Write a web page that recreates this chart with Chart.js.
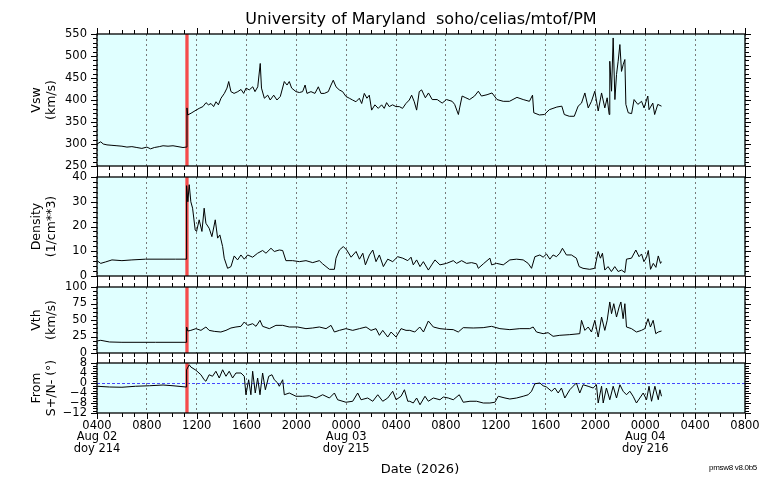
<!DOCTYPE html>
<html>
    <head>
        <script src="https://cdn.jsdelivr.net/npm/chart.js"></script>

        <style>
            body {
                margin: 0;
                background: #ffffff;
            }

            #wrap {
                position: relative;
                width: 776px;
                height: 480px;
                font-family: 'DejaVu Sans', sans-serif;
                color: #000;
            }

            #wrap canvas {
                position: absolute;
                left: 0;
                top: 0;
            }

            .txt {
                position: absolute;
                white-space: nowrap;
            }

            #title {
                left: 0;
                width: 842px;
                top: 9px;
                font-size: 16px;
                line-height: 20px;
                text-align: center;
            }

            #xlabel {
                left: 0;
                width: 840px;
                top: 461px;
                font-size: 13px;
                line-height: 16px;
                text-align: center;
            }

            #version {
                right: 19px;
                top: 462px;
                font-family: 'Liberation Sans', sans-serif;
                font-size: 8px;
                letter-spacing: -0.3px;
                line-height: 11px;
            }
        </style>
    </head>

    <body>

        <div id="wrap">
            <canvas id="c0" width="776" height="480"></canvas>
            <canvas id="c1" width="776" height="480"></canvas>
            <canvas id="c2" width="776" height="480"></canvas>
            <canvas id="c3" width="776" height="480"></canvas>
            <div class="txt" id="title">University of Maryland&nbsp;&nbsp;soho/celias/mtof/PM</div>
            <div class="txt" id="xlabel">Date (2026)</div>
            <div class="txt" id="version">pmsw8 v8.0b5</div>
        </div>

        <script>
            // hours counted from 0000 Aug 02
            const dateTickHours = [4, 24, 48];
            const dateTickDays = ['Aug 02', 'Aug 03', 'Aug 04'];
            const dateTickDoy = ['doy 214', 'doy 215', 'doy 216'];
            const shockHour = 11.22;

            const vswHours = [
                4.0, 4.3, 4.5, 4.8, 5.2, 5.6, 6.0, 6.4, 6.8, 7.2, 7.6, 8.0, 8.3, 8.6, 9.0, 9.3, 9.7, 10.1, 10.5, 10.9, 11.15,
                11.22, 11.28, 11.55, 11.95, 12.2, 12.5, 12.75, 12.94, 13.15, 13.36, 13.55, 13.74, 13.95, 14.22, 14.43, 14.57,
                14.75, 15.0, 15.3, 15.56, 15.77, 15.96, 16.22, 16.5, 16.68, 16.9, 17.1, 17.2, 17.43, 17.7, 17.9, 18.18, 18.44,
                18.71, 19.03, 19.25, 19.43, 19.62, 19.97, 20.24, 20.5, 20.7, 20.85, 21.17, 21.49, 21.76, 21.97, 22.24, 22.56,
                22.78, 22.96, 23.18, 23.44, 23.71, 23.98, 24.25, 24.51, 24.78, 25.05, 25.24, 25.45, 25.66, 25.85, 26.04, 26.3,
                26.57, 26.84, 27.05, 27.24, 27.45, 27.72, 27.99, 28.26, 28.52, 28.79, 29.06, 29.25, 29.46, 29.65, 29.86, 30.05,
                30.35, 30.6, 30.9, 31.3, 31.7,
                32.05, 32.5, 32.7, 33.0, 33.1, 33.3, 33.6, 33.9, 34.3, 34.6, 34.85, 35.3, 35.7, 36.1, 36.6, 37.1, 37.7, 38.2,
                38.7, 38.95, 39.05, 39.5, 39.9, 40.3, 40.9, 41.3, 41.5, 41.9, 42.3, 42.61, 42.88, 43.15, 43.42, 43.68, 43.95,
                44.22, 44.49, 44.75, 44.94, 45.1, 45.15, 45.29, 45.42, 45.56, 45.69, 45.82, 45.96, 46.09, 46.22, 46.36, 46.44,
                46.63, 46.9, 47.1, 47.4, 47.7, 47.9, 48.2, 48.3, 48.6, 48.75, 49.0, 49.3
            ];
            const vswValues = [
                300, 305, 300, 298, 297, 296, 295, 293, 294, 292, 290, 293, 289, 292, 294, 296, 295, 296, 294, 292, 293,
                382, 366, 370, 377, 381, 385, 394, 389, 392, 385, 396, 389, 404, 415, 427, 442,
                419, 415, 419, 424, 415, 427, 423, 430, 419, 430, 483, 427, 404, 411, 400, 411, 400,
                408, 442, 434, 442, 427, 419, 417, 419, 434, 415, 419, 415, 430, 415, 415, 419,
                434, 445, 430, 423, 419, 408, 404, 400, 396, 404, 392, 415, 404, 411, 377, 389,
                381, 389, 381, 394, 385, 389, 385, 385, 381, 392, 400, 411, 396, 377, 419, 423,
                405, 416, 401, 401, 393,
                401, 397, 390, 367, 382, 409, 405, 401, 409, 420, 409, 412, 416, 401, 397, 397, 406, 401,
                397, 411, 371, 366, 367, 378, 384, 386, 367, 363, 363, 386, 393, 416, 382, 397, 420,
                375, 416, 382, 405, 367, 488, 420, 541, 401, 458, 488, 526, 465, 480, 492, 390,
                371, 369, 401, 390, 397, 382, 409, 378, 393, 367, 390, 386
            ];

            const denHours = [
                4.0, 4.3, 4.7, 5.2, 6.0, 6.8, 7.9, 9.3, 10.3, 11.15,
                11.19, 11.29, 11.4, 11.53, 11.67, 11.88, 11.99, 12.2, 12.42, 12.6, 12.74, 13.0, 13.22, 13.49, 13.68, 13.86,
                14.08, 14.21, 14.48, 14.75, 15.01, 15.28, 15.55, 15.82, 16.09, 16.49, 16.89, 17.29, 17.56, 17.96, 18.23, 18.63,
                18.9, 19.16, 19.7, 20.24, 20.77, 21.31, 21.84, 22.11, 22.65, 23.05, 23.18, 23.45, 23.77, 24.04, 24.39, 24.79,
                25.06, 25.33, 25.54, 25.86, 26.13, 26.39, 26.66, 26.98, 27.33, 27.73, 28.13, 28.54, 28.94, 29.2, 29.38, 29.65,
                29.92, 30.19, 30.59, 30.86, 31.12, 31.52, 32.05, 32.59, 32.86, 33.26, 33.66, 34.06, 34.46, 34.6, 35.0, 35.53,
                35.67, 36.07, 36.6, 37.13, 37.67, 38.2, 38.6, 38.87, 39.14, 39.54, 39.8, 40.07, 40.34, 40.6, 40.87, 41.14,
                41.35, 41.67, 42.07, 42.47, 42.69, 43.0, 43.54, 43.94, 44.21, 44.4, 44.56, 44.75, 45.01, 45.28, 45.55, 45.82,
                46.09, 46.36, 46.49, 46.89, 47.24, 47.5, 47.7, 47.89, 48.1, 48.24, 48.42, 48.64, 48.85, 49.04, 49.22, 49.3
            ];
            const denValues = [
                6.2, 5.1, 5.7, 6.5, 6.2, 6.5, 6.8, 6.8, 6.8, 6.8,
                36.5, 30, 36.9, 30, 27.4, 18.6, 18, 22.7, 18, 27.4, 21.3, 19.3, 15.9, 22.7, 15.3, 16.6,
                11.9, 7.2, 3.1, 3.8, 8.1, 6.5, 8.5, 6.8, 8.5, 7.6, 9.2, 10.3, 9.2, 11.2, 9.9, 10.5,
                10.3, 6.2, 6.2, 5.8, 6.2, 5.4, 6.2, 4.9, 2.7, 2.7, 7.2, 10.5, 11.9, 10.5, 7.6, 9.9,
                6.8, 9.2, 4.5, 8.5, 10.5, 5.8, 8.5, 3.8, 6.8, 5.8, 7.8, 7.2, 6.2, 7.6, 4.5, 6.5,
                3.8, 5.8, 2.4, 4.5, 6.5, 4.5, 5.1, 6.2, 5.1, 6.2, 5.1, 5.4, 4.9, 3.1, 4.9, 7.2,
                4.5, 5.1, 4.5, 6.5, 6.8, 6.5, 5.1, 3.1, 7.8, 8.5, 7.6, 8.9, 6.8, 8.5, 7.8, 9.2,
                11.2, 8.5, 8.5, 7.2, 3.8, 3.1, 2.7, 3.1, 9.9, 7.2, 9.2, 2.4, 3.8, 1.8, 3.8, 1.8,
                2.4, 1.4, 6.8, 7.2, 10.5, 7.8, 8.9, 5.8, 7.6, 10.3, 2.7, 5.1, 3.5, 8.1, 5.1, 5.8
            ];

            const vthHours = [
                4.0, 4.3, 5.0, 6.0, 8.7, 11.15,
                11.19, 11.29, 11.53, 11.94, 12.34, 12.74, 13.0, 13.41, 13.94, 14.35, 14.75, 15.15, 15.55, 15.82, 16.09,
                16.49, 16.76, 17.08, 17.29, 17.83, 18.36, 18.9, 19.43, 20.1, 20.77, 21.31, 21.84, 22.38, 22.78, 23.05,
                23.45, 23.98, 24.52, 25.06, 25.59, 25.99, 26.39, 26.66, 26.93, 27.33, 27.6, 28.0, 28.4, 28.8, 29.1, 29.5,
                29.9, 30.2, 30.59, 30.99, 31.52, 32.05, 32.59, 32.99, 33.39, 34.19, 34.99, 35.66, 36.33, 37.13, 37.93,
                38.73, 39.0, 39.27, 39.8, 40.2, 40.6, 41.14, 41.94, 42.74, 42.88, 43.15, 43.42, 43.68, 43.95, 44.22, 44.49,
                44.75, 44.94, 45.15, 45.29, 45.47, 45.69, 45.9, 46.04, 46.22, 46.36, 46.49, 46.89, 47.29, 47.69, 47.96,
                48.22, 48.41, 48.63, 48.84, 49.04, 49.3
            ];
            const vthValues = [
                18.2, 19.2, 16.7, 16.2, 16.2, 16.2,
                39.4, 33.3, 34.3, 36.9, 34.3, 39.4, 34.3, 32.8, 31.8, 34.3, 37.9, 39.4, 40.4, 47, 41.9,
                44.4, 40.4, 49.5, 40.4, 36.9, 41.9, 41.9, 39.4, 39.4, 36.9, 37.9, 39.4, 36.9, 41.9, 31.8,
                34.3, 36.9, 34.3, 36.9, 39.4, 34.3, 36.9, 26.8, 34.3, 24.2, 31.8, 24.2, 36.9, 34.3, 34.3, 31.8,
                39.4, 31.8, 48.5, 39.4, 36.9, 35.9, 35.4, 31.8, 38.4, 37.9, 38.4, 40.4, 36.9, 35.4, 36.9,
                36.9, 39.4, 31.8, 29.3, 30.8, 25.3, 26.8, 27.8, 29.3, 49.5, 34.3, 39.4, 31.8, 49.5, 24.2, 54.5,
                34.3, 49.5, 77.3, 59.6, 74.7, 54.5, 69.7, 77.3, 52, 74.7, 39.4, 36.9, 31.8, 34.3, 36.9,
                52, 39.4, 49.5, 29.3, 31.8, 33.3
            ];

            const fromHours = [
                4.0, 5.0, 6.0, 7.1, 8.2, 9.3, 10.1, 11.15,
                11.19, 11.4, 11.53, 11.94, 12.34, 12.6, 12.74, 13.0, 13.27, 13.54, 13.81, 14.08, 14.35, 14.61, 14.88, 15.15,
                15.55, 15.82, 15.95, 16.17, 16.35, 16.49, 16.7, 16.89, 17.08, 17.29, 17.51, 17.78, 18.04, 18.23, 18.5, 18.63,
                18.9, 19.03, 19.43, 19.97, 20.5, 21.04, 21.58, 22.11, 22.65, 23.05, 23.31, 23.98, 24.52, 24.92, 25.19, 25.72,
                26.13, 26.53, 26.93, 27.33, 27.73, 28.0, 28.4, 28.67, 28.94, 29.1, 29.38, 29.65, 29.92, 30.32, 30.59, 30.99,
                31.52, 31.79, 32.19, 32.59, 33.07, 33.39, 33.93, 34.46, 35.0, 35.53, 35.93, 36.2, 36.74, 37.13, 37.67, 38.2,
                38.6, 38.87, 39.14, 39.54, 39.8, 40.07, 40.48, 40.74, 41.01, 41.27, 41.54, 41.94, 42.21, 42.47, 42.74, 43.01,
                43.41, 43.81, 44.08, 44.22, 44.49, 44.62, 44.88, 45.15, 45.42, 45.69, 45.96, 46.22, 46.49, 46.76, 47.02,
                47.29, 47.56, 47.83, 48.1, 48.3, 48.5, 48.77, 49.04, 49.17, 49.3
            ];
            const fromValues = [
                -1.3, -1.6, -1.7, -1.3, -1.1, -0.8, -1.1, -1.6,
                5.3, 7.3, 6.4, 5.1, 3.3, 1.3, 0.7, 3.3, 2.7, 4.7, 2.0, 5.3, 2.7, 4.7, 2.0, 4.0,
                4.0, 2.7, -4.7, 1.3, -4.7, 4.7, -4.0, 2.0, -4.7, 4.0, -2.7, 2.7, 3.3, 1.3, 0, -1.3,
                1.3, -4.7, -4.0, -5.3, -5.3, -5.1, -6.0, -4.7, -6.0, -4.0, -6.7, -7.7, -7.3, -4.0, -6.7, -6.0,
                -7.3, -4.7, -7.3, -6.0, -3.3, -6.7, -5.3, -2.7, -7.3, -7.3, -8.0, -6.0, -8.7, -5.3, -7.3, -6.0,
                -6.7, -5.6, -6.0, -6.7, -4.7, -7.7, -7.3, -7.3, -8.0, -8.0, -7.7, -5.3, -6.0, -6.4, -6.0, -5.3,
                -4.7, -3.3, -0.3, 0, -1.1, -1.6, -3.3, -2.0, -4.0, -2.0, -6.0, -2.7, -1.3, 0, -4.0, -0.7,
                -1.3, -2.0, -0.7, -8.0, -1.3, -8.0, -2.0, -6.7, -1.3, -6.0, -0.7, -3.3, -4.7, -3.3, -5.3,
                -8.0, -6.0, -4.0, -6.7, -1.3, -7.3, -1.3, -6.7, -2.7, -5.3
            ];

            const plotLeft = 97;
            const plotRight = 745;

            Chart.defaults.font.family = "'DejaVu Sans', sans-serif";
            Chart.defaults.color = '#000';

            // light cyan panel, red shock marker, black frame with minor ticks on all sides
            const panelFrame = {
                id: 'panelFrame',
                beforeDraw(chart) {
                    const a = chart.chartArea;
                    const ctx = chart.ctx;
                    ctx.save();
                    ctx.fillStyle = '#e0ffff';
                    ctx.fillRect(a.left, a.top, a.right - a.left, a.bottom - a.top);
                    ctx.restore();
                },
                beforeDatasetsDraw(chart) {
                    const a = chart.chartArea;
                    const ctx = chart.ctx;
                    const x = chart.scales.x.getPixelForValue(shockHour);
                    ctx.save();
                    ctx.strokeStyle = 'rgb(245,75,75)';
                    ctx.lineWidth = 3.3;
                    ctx.beginPath();
                    ctx.moveTo(x, a.top);
                    ctx.lineTo(x, a.bottom);
                    ctx.stroke();
                    ctx.restore();
                },
                afterDraw(chart, args, opts) {
                    const a = chart.chartArea;
                    const ctx = chart.ctx;
                    const xs = chart.scales.x;
                    const ys = chart.scales.y;
                    ctx.save();
                    ctx.strokeStyle = '#000';
                    ctx.lineWidth = 1;
                    ctx.beginPath();
                    for (let h = xs.min; h <= xs.max + 1e-6; h += 1) {
                        const len = h % 4 === 0 ? 6 : 4;
                        const x = Math.round(xs.getPixelForValue(h)) + 0.5;
                        ctx.moveTo(x, a.top - len);
                        ctx.lineTo(x, a.top);
                        ctx.moveTo(x, a.bottom);
                        ctx.lineTo(x, a.bottom + len);
                    }
                    const n = Math.round((ys.max - ys.min) / opts.minor);
                    for (let i = 0; i <= n; ++ i) {
                        const v = ys.min + i * opts.minor;
                        const r = (v - ys.min) / opts.major;
                        const len = Math.abs(r - Math.round(r)) < 1e-6 ? 6 : 4;
                        const y = Math.round(ys.getPixelForValue(v)) + 0.5;
                        ctx.moveTo(a.left - len, y);
                        ctx.lineTo(a.left, y);
                        ctx.moveTo(a.right, y);
                        ctx.lineTo(a.right + len, y);
                    }
                    ctx.stroke();
                    ctx.lineWidth = 1.3;
                    ctx.strokeRect(a.left, a.top, a.right - a.left, a.bottom - a.top);
                    ctx.restore();
                }
            };

            function makePanel(id, p) {
                const points = p.hours.map((h, i) => ({x: h, y: p.values[i]}));
                // the bottom panel keeps room below it for the date labels
                const xAxisHeight = p.showDates ? 60 : 0;
                return new Chart(document.getElementById(id), {
                    type: 'line',
                    data: {
                        datasets: [
                            {
                                data: points,
                                borderColor: '#000',
                                borderWidth: 1,
                                pointRadius: 0,
                                tension: 0
                            }
                        ]
                    },
                    options: {
                        responsive: false,
                        animation: false,
                        events: [],
                        layout: {
                            padding: {left: 0, right: 776 - plotRight, top: p.top, bottom: 480 - p.bottom - xAxisHeight}
                        },
                        plugins: {
                            legend: {display: false},
                            tooltip: {enabled: false},
                            panelFrame: {major: p.step, minor: p.minor}
                        },
                        scales: {
                            x: {
                                type: 'linear',
                                min: 4,
                                max: 56,
                                afterFit: (s) => { s.height = xAxisHeight; },
                                grid: {color: '#7a7a7a', lineWidth: 1, drawTicks: false},
                                border: {display: false, dash: [2, 3]},
                                ticks: {
                                    display: p.showDates,
                                    stepSize: 4,
                                    autoSkip: false,
                                    maxRotation: 0,
                                    padding: 7.25,
                                    font: {size: 11.5, lineHeight: 1},
                                    callback: (v) => {
                                        const hh = String(v % 24).padStart(2, '0') + '00';
                                        const d = dateTickHours.indexOf(v);
                                        return d >= 0 ? [hh, dateTickDays[d], dateTickDoy[d]] : hh;
                                    }
                                }
                            },
                            y: {
                                min: p.min,
                                max: p.max,
                                afterFit: (s) => { s.width = plotLeft; },
                                grid: {
                                    display: p.zeroLine,
                                    drawTicks: false,
                                    lineWidth: 1,
                                    color: (c) => (c.tick && c.tick.value === 0 ? '#4646ff' : 'rgba(0,0,0,0)')
                                },
                                border: {display: false, dash: [3, 2]},
                                ticks: {
                                    stepSize: p.step,
                                    autoSkip: false,
                                    padding: 10,
                                    font: {size: 11.5},
                                    callback: (v) => (v < 0 ? '\u2212' + Math.abs(v) : String(v))
                                },
                                title: {
                                    display: true,
                                    text: p.label,
                                    font: {size: 12.5, lineHeight: 1.2},
                                    padding: {top: 29, bottom: 0}
                                }
                            }
                        }
                    },
                    plugins: [panelFrame]
                });
            }

            makePanel('c0', {
                hours: vswHours, values: vswValues, label: ['Vsw', '(km/s)'],
                min: 250, max: 550, step: 50, minor: 10, top: 34, bottom: 166, showDates: false, zeroLine: false
            });
            makePanel('c1', {
                hours: denHours, values: denValues, label: ['Density', '(1/cm**3)'],
                min: 0, max: 40, step: 10, minor: 2, top: 177, bottom: 276, showDates: false, zeroLine: false
            });
            makePanel('c2', {
                hours: vthHours, values: vthValues, label: ['Vth', '(km/s)'],
                min: 0, max: 100, step: 25, minor: 6.25, top: 287, bottom: 353, showDates: false, zeroLine: false
            });
            makePanel('c3', {
                hours: fromHours, values: fromValues, label: ['From', 'S+/N- (\u00b0)'],
                min: -12, max: 8, step: 4, minor: 1, top: 363, bottom: 413, showDates: true, zeroLine: true
            });
        </script>

    </body>
</html>
